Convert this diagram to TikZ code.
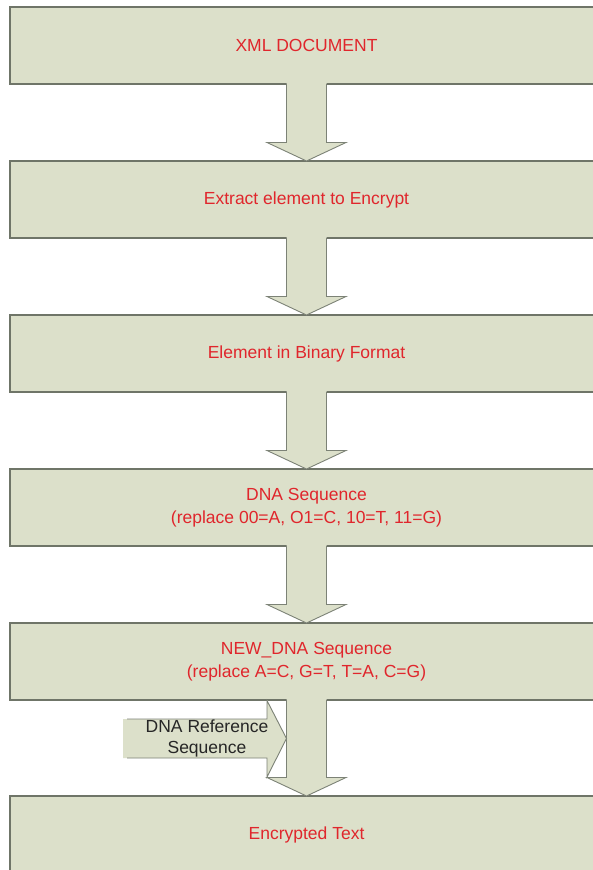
\documentclass[tikz,border=0pt]{standalone}
\usepackage{fontspec}
\setmainfont{Liberation Sans}
\usetikzlibrary{calc}
\definecolor{boxfill}{HTML}{DCE0CA}
\definecolor{boxline}{HTML}{6F7568}
\definecolor{arrline}{HTML}{7C8276}
\definecolor{labelred}{HTML}{E0262C}
\definecolor{labeldark}{HTML}{262626}
\tikzset{
  stage/.style={draw=boxline, line width=1.2pt, fill=boxfill,
    minimum width=593pt, minimum height=77pt, inner sep=0pt, outer sep=0pt,
    text=labelred, font=\fontsize{17.5}{22.5}\selectfont, align=center, anchor=north},
  blockfill/.style={fill=boxfill},
  blockline/.style={draw=arrline, line width=0.9pt, line join=miter},
  reflabel/.style={text=labeldark, font=\fontsize{17.5}{20.5}\selectfont, align=center, inner sep=0pt},
}
% block arrow from the bottom of one stage to the top of the next
\newcommand{\stagearrow}[2]{%
  \coordinate (s) at (#1.south);
  \coordinate (t) at (#2.north);
  \fill[blockfill] ($(s)+(-20,-1)$) -- ($(t)+(-20,-18.5)$) -- ($(t)+(-39.5,-18.5)$)
    -- (t) -- ($(t)+(39.5,-18.5)$) -- ($(t)+(20,-18.5)$) -- ($(s)+(20,-1)$) -- cycle;
  \draw[blockline] ($(s)+(-20,0)$) -- ($(t)+(-20,-18.5)$) -- ($(t)+(-39.5,-18.5)$)
    -- (t) -- ($(t)+(39.5,-18.5)$) -- ($(t)+(20,-18.5)$) -- ($(s)+(20,0)$);
}
\begin{document}
\begin{tikzpicture}[x=1pt,y=-1pt]
\useasboundingbox (0,0) rectangle (593,870);
\fill[white] (0,0) rectangle (593,870);
\clip (0,0) rectangle (593,870);

\node[stage] (b1) at (306.5,7)   {XML DOCUMENT};
\node[stage] (b2) at (306.5,161) {Extract element to Encrypt};
\node[stage] (b3) at (306.5,315) {Element in Binary Format};
\node[stage] (b4) at (306.5,469) {DNA Sequence\\(replace 00=A, O1=C, 10=T, 11=G)};
\node[stage] (b5) at (306.5,623) {NEW\_DNA Sequence\\(replace A=C, G=T, T=A, C=G)};
\node[stage, minimum height=78pt] (b6) at (306.5,796) {Encrypted Text};

\stagearrow{b1}{b2}
\stagearrow{b2}{b3}
\stagearrow{b3}{b4}
\stagearrow{b4}{b5}
\stagearrow{b5}{b6}

% side input arrow pointing at the last transition
\fill[blockfill] (123,719) -- (267,719) -- (267,700) -- (286.5,738.5)
  -- (267,777) -- (267,758) -- (123,758) -- cycle;
\draw[blockline] (127,719) -- (267,719) -- (267,700.6) -- (286.5,738.5)
  -- (267,777) -- (267,758) -- (127,758);
\node[reflabel] (ref) at (207,738.5) {DNA Reference\\Sequence};
\end{tikzpicture}
\end{document}
